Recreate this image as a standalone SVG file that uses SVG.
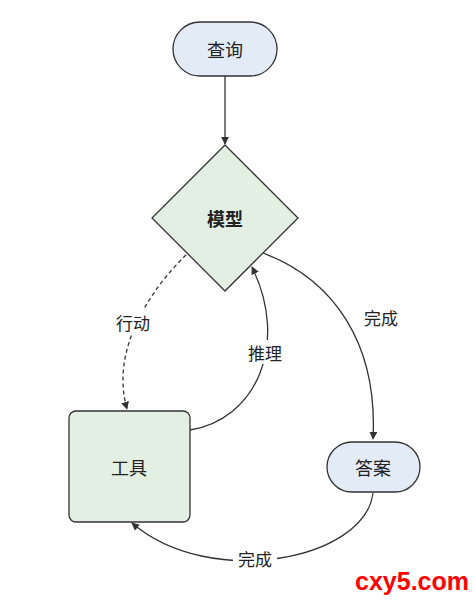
<svg xmlns="http://www.w3.org/2000/svg" width="475" height="603" viewBox="0 0 475 603">
<style>
.t{font-family:"Noto Sans CJK SC","Noto Sans",sans-serif;font-size:18px;fill:#222;text-anchor:middle;dominant-baseline:central}
.l{font-family:"Noto Sans CJK SC","Noto Sans",sans-serif;font-size:17px;fill:#222;text-anchor:middle;dominant-baseline:central}
.blue{fill:#e3ebf7;stroke:#333;stroke-width:1.3}
.green{fill:#e3efe3;stroke:#333;stroke-width:1.3}
.e{fill:none;stroke:#333;stroke-width:1.3}
.lb{fill:#fff}
</style>
<defs>
<marker id="a" viewBox="0 0 10 10" refX="9" refY="5" markerWidth="8" markerHeight="8" orient="auto-start-reverse" markerUnits="userSpaceOnUse">
<path d="M0,0 L10,5 L0,10 z" fill="#333"/>
</marker>
</defs>
<rect width="475" height="603" fill="#fff"/>
<g id="edges">
<path class="e" d="M225,76 L225,144" marker-end="url(#a)"/>
<path class="e" d="M186,255 C150,290 110,350 127,409" stroke-dasharray="4,3" marker-end="url(#a)"/>
<path class="e" d="M190,430 C255,420 290,345 252,267" marker-end="url(#a)"/>
<path class="e" d="M263,253 C335,280 378,345 373,439" marker-end="url(#a)"/>
<path class="e" d="M373,493 C365,560 210,590 132,523" marker-end="url(#a)"/>
<rect class="lb" x="111" y="310" width="44" height="24"/>
<text class="l" x="133" y="322">行动</text>
<rect class="lb" x="243" y="340" width="44" height="24"/>
<text class="l" x="265" y="352">推理</text>
<text class="l" x="381" y="317">完成</text>
<rect class="lb" x="233" y="546" width="44" height="24"/>
<text class="l" x="255" y="558">完成</text>
</g>
<g id="query">
<rect class="blue" x="173" y="22" width="104" height="54" rx="27"/>
<text class="t" x="225" y="49">查询</text>
</g>
<g id="model">
<path class="green" d="M225,145 L298,218 L225,291 L152,218 z"/>
<text class="t" x="225" y="218" font-weight="bold">模型</text>
</g>
<g id="tool">
<rect class="green" x="69" y="411" width="121" height="111" rx="7"/>
<text class="t" x="129" y="467">工具</text>
</g>
<g id="answer">
<rect class="blue" x="327" y="442" width="93" height="50" rx="25"/>
<text class="t" x="373" y="467">答案</text>
</g>
<text x="412" y="590" font-family="Liberation Sans,Arial,sans-serif" font-size="25" font-weight="bold" fill="#f00" text-anchor="middle">cxy5.com</text>
</svg>
